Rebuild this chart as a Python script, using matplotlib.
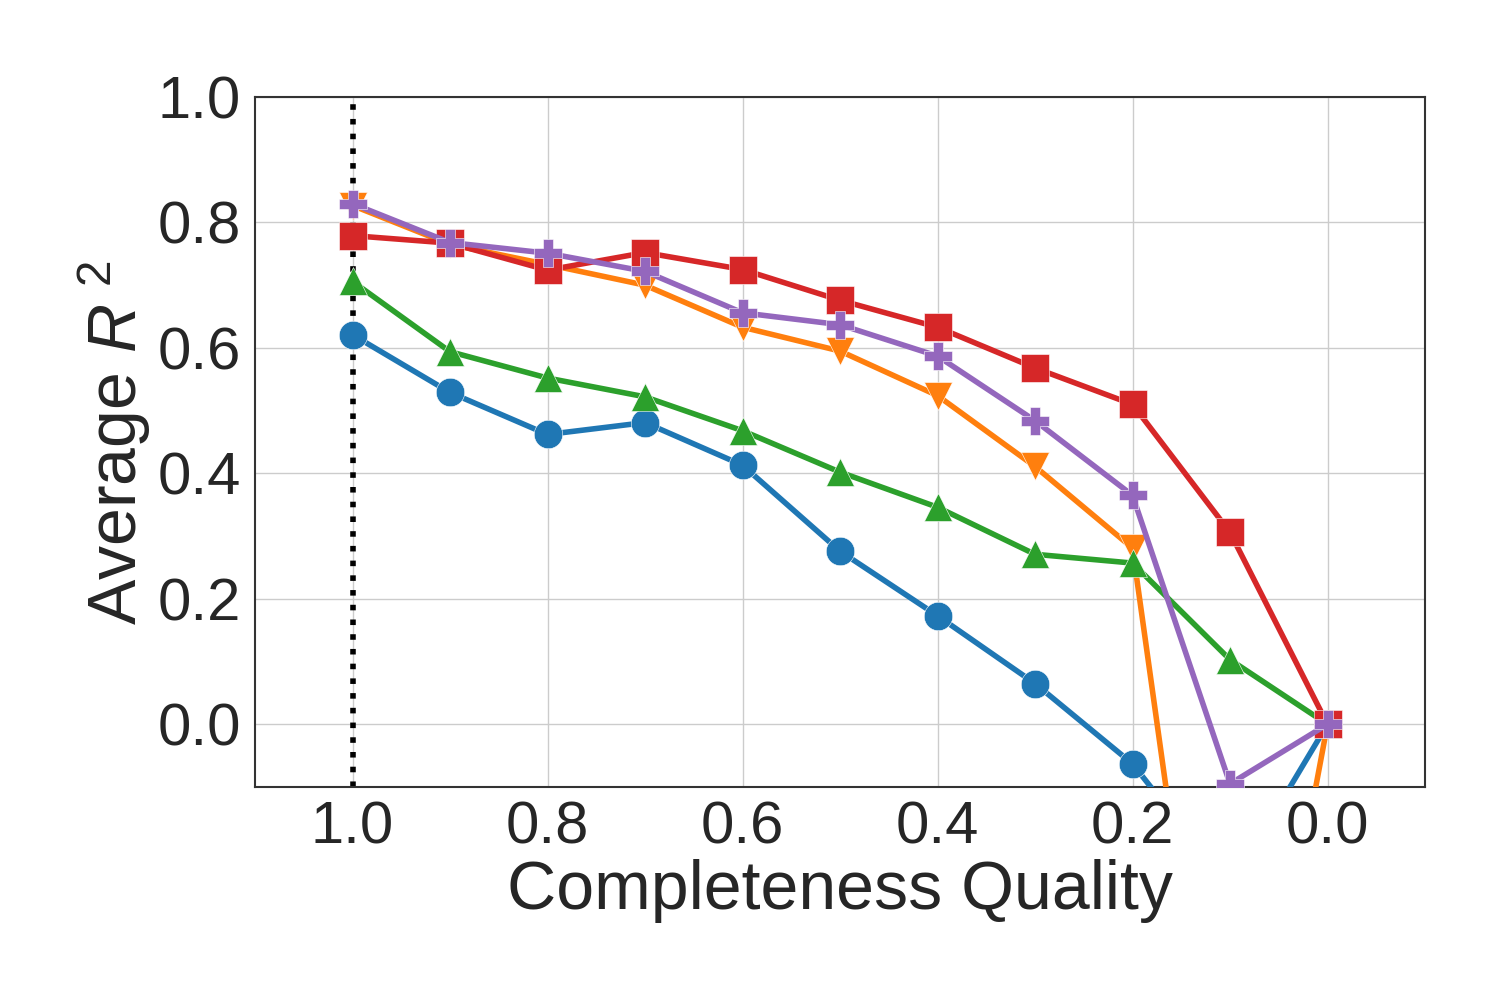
import numpy as np
import matplotlib
matplotlib.use("Agg")
import matplotlib.pyplot as plt

# completeness quality levels (x axis, shown inverted)
quality = [1.0, 0.9, 0.8, 0.7, 0.6, 0.5, 0.4, 0.3, 0.2, 0.1, 0.0]

# average R^2 per method
blue_r2 = [0.621, 0.529, 0.462, 0.481, 0.413, 0.276, 0.173, 0.065, -0.063, -0.26, 0.0]
orange_r2 = [0.827, 0.765, 0.733, 0.700, 0.633, 0.595, 0.524, 0.411, 0.281, -0.83, 0.0]
green_r2 = [0.706, 0.594, 0.552, 0.522, 0.468, 0.402, 0.346, 0.271, 0.257, 0.103, 0.0]
red_r2 = [0.779, 0.767, 0.724, 0.752, 0.725, 0.676, 0.633, 0.568, 0.510, 0.306, 0.0]
purple_r2 = [0.830, 0.768, 0.751, 0.722, 0.656, 0.637, 0.587, 0.484, 0.365, -0.095, 0.0]

yticks = [0.0, 0.2, 0.4, 0.6, 0.8, 1.0]
xticks = [1.0, 0.8, 0.6, 0.4, 0.2, 0.0]

plt.rcParams['font.family'] = ['Liberation Sans', 'DejaVu Sans']
plt.rcParams['mathtext.fontset'] = 'custom'
plt.rcParams['mathtext.it'] = 'Liberation Sans:italic'
plt.rcParams['mathtext.rm'] = 'Liberation Sans'
text_col = '#262626'

fig = plt.figure(figsize=(15, 10), dpi=100)
ax = fig.add_axes([0.17, 0.213, 0.78, 0.69])

ax.grid(True, color='#cccccc', linewidth=1.0)
ax.set_axisbelow(True)

ax.axvline(1.0, color='black', linestyle=':', linewidth=4, zorder=1)

series = [
    (blue_r2, '#1f77b4', 'o'),
    (orange_r2, '#ff7f0e', 'v'),
    (green_r2, '#2ca02c', '^'),
    (red_r2, '#d62728', 's'),
    (purple_r2, '#9467bd', 'P'),
]
for vals, col, mk in series:
    ax.plot(quality, vals, color=col, marker=mk, markersize=20.5,
            linewidth=4, markeredgecolor='white', markeredgewidth=0.4,
            clip_on=True, zorder=3)

ax.set_xlim(1.1, -0.1)
ax.set_ylim(-0.1, 1.0)
ax.set_xticks(xticks)
ax.set_yticks(yticks)
ax.set_xticklabels([f"{v:.1f}" for v in xticks])
ax.set_yticklabels([f"{v:.1f}" for v in yticks])
ax.tick_params(axis='both', length=0, labelsize=43, colors=text_col, pad=10)

for sp in ax.spines.values():
    sp.set_color('#333333')
    sp.set_linewidth(1.5)

ax.set_xlabel("Completeness Quality", fontsize=49, color=text_col, labelpad=2)
ax.set_ylabel("Average $R^{\\ 2}$", fontsize=49, color=text_col, labelpad=3)

fig.savefig("out.png", dpi=100, facecolor='white')
